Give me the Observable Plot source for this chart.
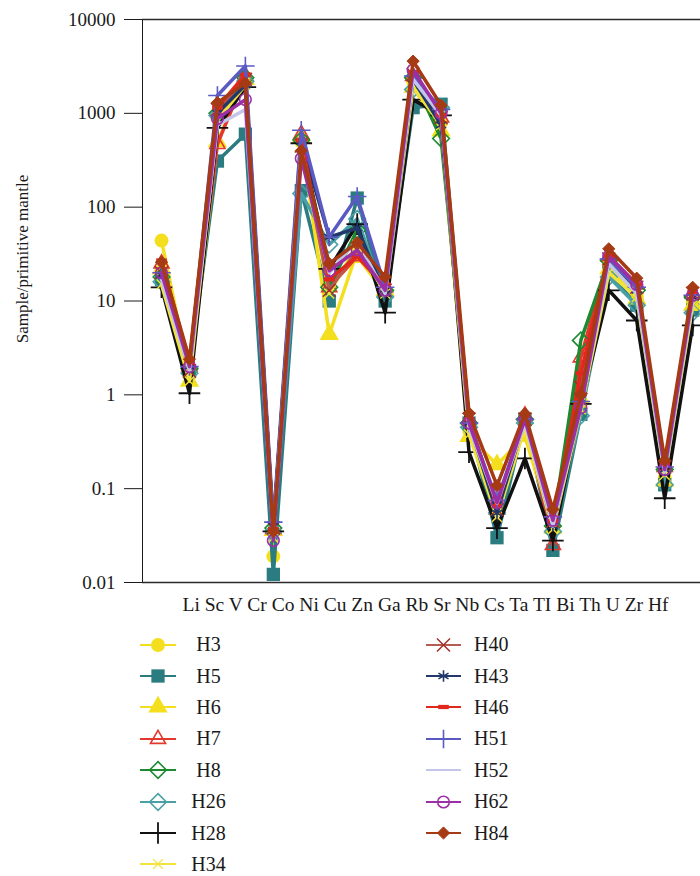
<!DOCTYPE html>
<html><head><meta charset="utf-8">
<script src="https://cdn.jsdelivr.net/npm/d3@7"></script>
<script src="https://cdn.jsdelivr.net/npm/@observablehq/plot@0.6"></script>
<style>
html,body{margin:0;padding:0;background:#fff;overflow:hidden;}
#chart svg{display:block;}
.legend{position:relative;height:251px;font-family:"Liberation Serif","DejaVu Serif",serif;font-size:20px;color:#1a1a1a;}
.col{position:absolute;top:4px;}
.row{height:31.4px;display:flex;align-items:center;}
.row svg{display:block;overflow:visible;}
.lbl-left{width:45px;margin-left:10px;text-align:center;}
.lbl-right{margin-left:13px;}
</style></head><body>
<div id="chart"></div>
<div class="legend" id="legend"></div>
<script>
// ---- data ----
const elements = ["Li","Sc","V","Cr","Co","Ni","Cu","Zn","Ga","Rb","Sr","Nb","Cs","Ta","TI","Bi","Th","U","Zr","Hf"];
const yTicks = [0.01, 0.1, 1, 10, 100, 1000, 10000];
const seriesNames = ["H3","H5","H6","H7","H8","H26","H28","H34","H40","H43","H46","H51","H52","H62","H84"];
const yLabel = "Sample/primitive mantle";

const H3  = [44, 1.6, 900, 2200, 0.019, 500, 14, 30, 12, 2200, 800, 0.42, 0.065, 0.5, 0.04, 0.8, 24, 11, 0.13, 9.5];
const H5  = [17, 1.8, 310, 600, 0.0122, 150, 10, 125, 10, 1150, 1250, 0.5, 0.030, 0.55, 0.022, 0.62, 20, 9, 0.11, 8];
const H6  = [22, 1.4, 500, 2300, 0.036, 550, 4.4, 34, 13, 1900, 650, 0.36, 0.18, 0.36, 0.038, 0.9, 22, 10.5, 0.12, 9];
const H7  = [25, 2.0, 470, 2500, 0.037, 600, 14, 30, 14, 2500, 900, 0.55, 0.06, 0.6, 0.025, 2.5, 30, 15, 0.17, 12];
const H8  = [18, 1.9, 1000, 2400, 0.038, 520, 14, 57, 13, 2400, 540, 0.5, 0.065, 0.55, 0.04, 3.8, 27, 13, 0.16, 11];
const H26 = [16, 1.7, 950, 2200, 0.035, 140, 40, 75, 11, 1800, 1150, 0.45, 0.055, 0.5, 0.035, 0.6, 18, 9, 0.11, 7.5];
const H28 = [14, 1.04, 700, 1900, 0.035, 480, 22, 66, 7.5, 1400, 950, 0.245, 0.038, 0.21, 0.028, 0.8, 13, 6.2, 0.079, 5.5];
const H34 = [15, 1.4, 850, 2000, 0.03, 450, 12, 40, 12, 1900, 750, 0.38, 0.05, 0.45, 0.037, 0.7, 20, 11, 0.14, 9];
const H40 = [20, 1.8, 1100, 2300, 0.038, 450, 13, 35, 13, 2600, 900, 0.55, 0.06, 0.55, 0.045, 1.2, 28, 14, 0.17, 12];
const H43 = [19, 2.0, 1000, 2000, 0.04, 500, 48, 60, 12, 2300, 750, 0.5, 0.055, 0.55, 0.04, 0.9, 26, 13, 0.16, 11];
const H46 = [27, 2.2, 1150, 2600, 0.037, 520, 17, 30, 15, 2700, 950, 0.55, 0.065, 0.6, 0.045, 1.7, 30, 15, 0.18, 12.5];
const H51 = [20, 2.0, 1550, 3200, 0.044, 660, 48, 130, 14, 2500, 1100, 0.5, 0.075, 0.55, 0.05, 0.85, 28, 14, 0.17, 11.5];
const H52 = [17, 1.8, 750, 1100, 0.033, 400, 20, 45, 12, 2300, 950, 0.45, 0.07, 0.5, 0.04, 0.75, 25, 12, 0.15, 10];
const H62 = [20, 2.0, 880, 1400, 0.028, 330, 21, 35, 13, 2900, 1000, 0.5, 0.071, 0.55, 0.046, 0.73, 30, 15, 0.16, 11.5];
const H84 = [26, 2.4, 1300, 2100, 0.035, 400, 25, 42, 18, 3600, 1220, 0.64, 0.108, 0.63, 0.06, 1.0, 36, 17.5, 0.2, 14];

const seriesValues = [H3,H5,H6,H7,H8,H26,H28,H34,H40,H43,H46,H51,H52,H62,H84];

// ---- styles ----
const dashSymbol = {draw(ctx, size){ const w = Math.sqrt(size) * 1.0, h = w * 0.4; ctx.rect(-w/2, -h/2, w, h); }};
const styles = [
  {line:"#f4df1f", symbol:"circle",   r:7,   fill:"#f4df1f", stroke:"none"},
  {line:"#2a7c80", symbol:"square",   r:7.5, fill:"#2a7c80", stroke:"none"},
  {line:"#f4df1f", symbol:"triangle", r:7.2, fill:"#f4df1f", stroke:"none"},
  {line:"#e2382e", symbol:"triangle2",r:7.2, fill:"none", stroke:"#e2382e", sw:1.6},
  {line:"#1c8a2f", symbol:"diamond2", r:7.5, fill:"none", stroke:"#1c8a2f", sw:1.6},
  {line:"#4aa0a6", symbol:"diamond2", r:7.5, fill:"none", stroke:"#4aa0a6", sw:1.6},
  {line:"#111111", symbol:"plus",     r:7,   fill:"none", stroke:"#111111", sw:1.8},
  {line:"#f2e33c", symbol:"times",    r:4.5, fill:"none", stroke:"#f2e33c", sw:1.4},
  {line:"#b55a55", symbol:"times",    r:6,   fill:"none", stroke:"#a2302b", sw:1.5},
  {line:"#22386a", symbol:"asterisk", r:5.5, fill:"none", stroke:"#22386a", sw:1.6},
  {line:"#e0281d", symbol:dashSymbol, r:6,   fill:"#e0281d", stroke:"none"},
  {line:"#5a5ac2", symbol:"plus",     r:6,   fill:"none", stroke:"#5a5ac2", sw:1.6},
  {line:"#c3c6ea", symbol:null},
  {line:"#9b2fa5", symbol:"circle",   r:5.8, fill:"none", stroke:"#9b2fa5", sw:1.6},
  {line:"#a53a14", symbol:"diamond2", r:5.5, fill:"#a53a14", stroke:"#a53a14", sw:1}
];

const rows = seriesNames.flatMap((name, s) => seriesValues[s].map((v, i) => ({name, i, v})));

const marks = [
  Plot.ruleY([yTicks[0], yTicks[yTicks.length - 1]], {stroke: "#2a2a2a", strokeWidth: 1.6})
];
seriesNames.forEach((name, s) => {
  const st = styles[s];
  const data = rows.filter(d => d.name === name);
  marks.push(Plot.line(data, {x: "i", y: "v", stroke: st.line, strokeWidth: 3.5, strokeLinejoin: "round"}));
  if (st.symbol) {
    marks.push(Plot.dot(data, {x: "i", y: "v", symbol: st.symbol, r: st.r, fill: st.fill, stroke: st.stroke, strokeWidth: st.sw || 1}));
  }
});
marks.push(Plot.text([elements.join(" ")], {frameAnchor: "bottom", textAnchor: "middle", lineAnchor: "middle", dy: 22, dx: 4, fontSize: 19.5, fill: "#1a1a1a"}));
marks.push(Plot.text([yLabel], {frameAnchor: "left", textAnchor: "middle", lineAnchor: "middle", rotate: -90, dx: -120, dy: -42, fontSize: 17, fill: "#1a1a1a"}));

const chart = Plot.plot({
  width: 700,
  height: 625,
  marginTop: 19,
  marginBottom: 43,
  marginLeft: 142,
  marginRight: 0,
  style: {fontFamily: "'Liberation Serif', 'DejaVu Serif', serif", fontSize: "19px", color: "#1a1a1a", background: "#fff", overflow: "visible"},
  x: {type: "linear", domain: [-0.68, 19.28], axis: null},
  y: {type: "log", domain: [yTicks[0], yTicks[yTicks.length - 1]], ticks: yTicks, tickFormat: d => String(d), tickSize: 18, tickPadding: 9, label: null, line: true},
  marks
});
document.getElementById("chart").appendChild(chart);

// ---- legend ----
const symMap = {circle: d3.symbolCircle, square: d3.symbolSquare, triangle: d3.symbolTriangle, triangle2: d3.symbolTriangle2,
  diamond2: d3.symbolDiamond2, plus: d3.symbolPlus, times: d3.symbolTimes, asterisk: d3.symbolAsterisk};
const legend = d3.select("#legend");
const leftCol = legend.append("div").attr("class", "col").style("left", "140px");
const rightCol = legend.append("div").attr("class", "col").style("left", "426px");
seriesNames.forEach((name, s) => {
  const st = styles[s];
  const left = s < 8;
  const row = (left ? leftCol : rightCol).append("div").attr("class", "row");
  const w = left ? 36 : 35;
  const svg = row.append("svg").attr("width", w).attr("height", 22);
  svg.append("line").attr("x1", 0).attr("x2", w).attr("y1", 11).attr("y2", 11).attr("stroke", st.line).attr("stroke-width", 2);
  if (st.symbol) {
    const type = typeof st.symbol === "string" ? symMap[st.symbol] : st.symbol;
    svg.append("path").attr("transform", `translate(${w/2},11)`)
      .attr("d", d3.symbol(type, Math.PI * st.r * st.r)())
      .attr("fill", st.fill).attr("stroke", st.stroke).attr("stroke-width", st.sw || 1);
  }
  row.append("span").attr("class", left ? "lbl-left" : "lbl-right").text(name);
});
</script>
</body></html>
